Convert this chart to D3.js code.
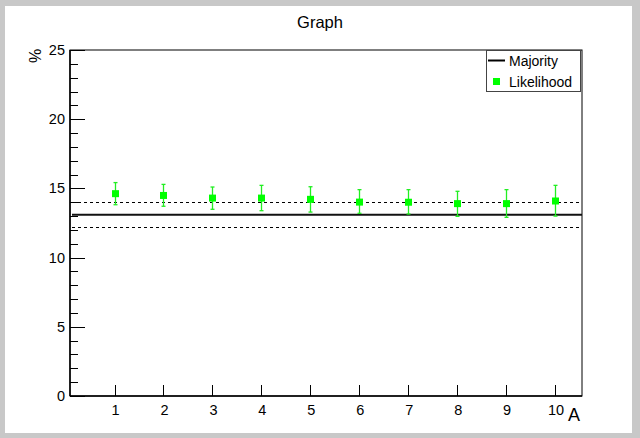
<!DOCTYPE html>
<html><head><meta charset="utf-8">
<script src="https://cdn.jsdelivr.net/npm/d3@7"></script>
<style>body{margin:0;background:#c8c8c8;} svg{display:block;font-family:"Liberation Sans",Arial,sans-serif;}</style>
</head><body>
<svg id="c" width="640" height="438"></svg>
<script>
const xValues = [1,2,3,4,5,6,7,8,9,10];
const likelihood = [14.62,14.49,14.30,14.30,14.21,14.01,14.00,13.90,13.90,14.09];
const errHigh = [0.80,0.80,0.80,0.92,0.91,0.90,0.91,0.89,1.01,1.13];
const errLow  = [0.80,0.78,0.81,0.91,0.92,0.81,0.85,0.92,0.99,1.09];
const majority = 13.1;
const majorityUpper = 14.0;
const majorityLower = 12.2;
const xTicks = [1,2,3,4,5,6,7,8,9,10];
const yTicks = [0,5,10,15,20,25];
const yMinorTicks = d3.range(0,26,1);

const svg = d3.select("#c");
svg.append("rect").attr("x",0).attr("y",0).attr("width",640).attr("height",438).attr("fill","#c8c8c8");
svg.append("rect").attr("x",5).attr("y",6).attr("width",627).attr("height",427).attr("fill","#fff");

const L=70,R=582,T=50,B=396;
const x = d3.scaleLinear().domain([0.09,10.55]).range([L,R]);
const y = d3.scaleLinear().domain([0,25]).range([B,T]);

// title
svg.append("text").attr("x",320).attr("y",28).attr("text-anchor","middle").attr("font-size",16.5).text("Graph");

// frame
svg.append("rect").attr("x",L).attr("y",T).attr("width",R-L).attr("height",B-T).attr("fill","none").attr("stroke","#000").attr("stroke-width",1);

// y axis ticks (inside)
const g = svg.append("g");
g.selectAll(".ymin").data(yMinorTicks).enter().append("line")
  .attr("x1",L).attr("x2",d=> d%5===0 ? L+15 : L+8)
  .attr("y1",d=>Math.round(y(d))+0.5).attr("y2",d=>Math.round(y(d))+0.5)
  .attr("stroke","#000").attr("stroke-width",1);
g.selectAll(".ylab").data(yTicks).enter().append("text")
  .attr("x",65).attr("y",d=>y(d)+5).attr("text-anchor","end").attr("font-size",14.5).text(d=>d);

// x axis ticks
g.selectAll(".xt").data(xTicks).enter().append("line")
  .attr("x1",d=>Math.round(x(d))+0.5).attr("x2",d=>Math.round(x(d))+0.5)
  .attr("y1",B).attr("y2",B-11).attr("stroke","#000").attr("stroke-width",1);
g.selectAll(".xlab").data(xTicks).enter().append("text")
  .attr("x",d=>x(d)+1).attr("y",415).attr("text-anchor","middle").attr("font-size",14.5).text(d=>d);

// axis lines
svg.append("line").attr("x1",L).attr("x2",L).attr("y1",T).attr("y2",B).attr("stroke","#000").attr("stroke-width",1.5);
svg.append("line").attr("x1",L).attr("x2",R).attr("y1",B).attr("y2",B).attr("stroke","#000").attr("stroke-width",1.5);

// axis titles
svg.append("text").attr("x",580).attr("y",421).attr("text-anchor","end").attr("font-size",18).text("A");
svg.append("text").attr("transform","translate(41,56) rotate(-90)").attr("text-anchor","middle").attr("font-size",16).text("%");

// majority lines
svg.append("line").attr("x1",72).attr("x2",R).attr("y1",y(majority)).attr("y2",y(majority)).attr("stroke","#111").attr("stroke-width",2);
[majorityUpper,majorityLower].forEach(v=>{
  svg.append("line").attr("x1",72).attr("x2",R).attr("y1",Math.round(y(v))+0.5).attr("y2",Math.round(y(v))+0.5)
    .attr("stroke","#000").attr("stroke-width",1).attr("stroke-dasharray","3,3");
});

// error bars + markers
const pts = xValues.map((xv,i)=>({x:xv,y:likelihood[i],hi:errHigh[i],lo:errLow[i]}));
const pg = svg.append("g");
pts.forEach(p=>{
  const cx = Math.round(x(p.x))+0.5;
  const yt = y(p.y+p.hi), yb = y(p.y-p.lo);
  pg.append("line").attr("x1",cx).attr("x2",cx).attr("y1",yt).attr("y2",yb).attr("stroke","#22ee22").attr("stroke-width",1.3);
  pg.append("line").attr("x1",cx-2).attr("x2",cx+2).attr("y1",yt).attr("y2",yt).attr("stroke","#22ee22").attr("stroke-width",1.3);
  pg.append("line").attr("x1",cx-2).attr("x2",cx+2).attr("y1",yb).attr("y2",yb).attr("stroke","#22ee22").attr("stroke-width",1.3);
  pg.append("rect").attr("x",cx-3.5).attr("y",y(p.y)-3.5).attr("width",7).attr("height",7).attr("fill","#00ff00");
});

// legend
const lg = svg.append("g");
lg.append("rect").attr("x",486.5).attr("y",50.5).attr("width",94).attr("height",41).attr("fill","#fff").attr("stroke","#444").attr("stroke-width",1);
lg.append("line").attr("x1",488).attr("x2",505).attr("y1",60.5).attr("y2",60.5).attr("stroke","#000").attr("stroke-width",2);
lg.append("text").attr("x",509).attr("y",65.5).attr("font-size",14).text("Majority");
lg.append("rect").attr("x",493).attr("y",78).attr("width",7).attr("height",7).attr("fill","#00ff00");
lg.append("text").attr("x",509).attr("y",86.5).attr("font-size",14).text("Likelihood");
</script>
</body></html>
